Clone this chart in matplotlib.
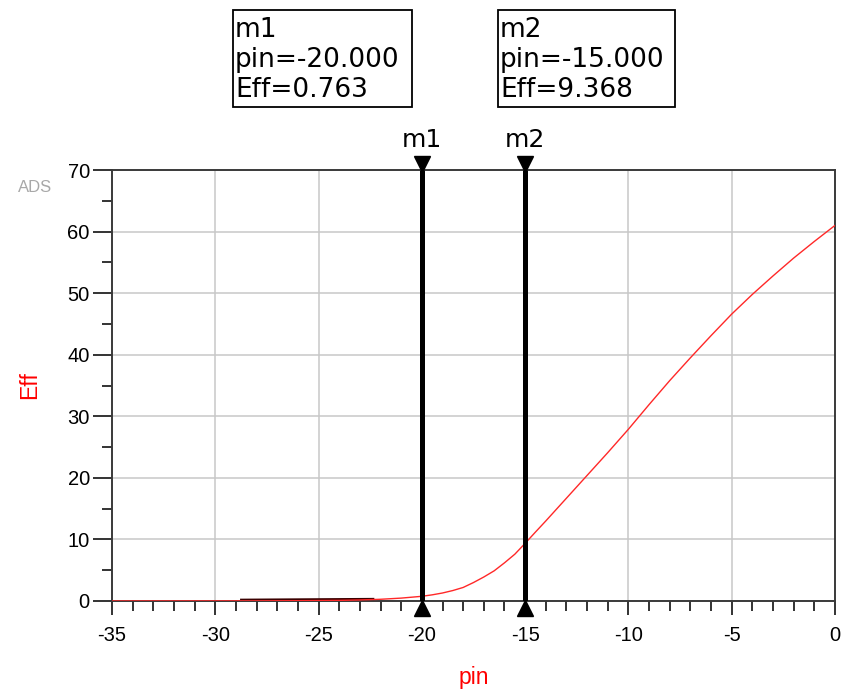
import matplotlib
matplotlib.use('Agg')
import matplotlib.pyplot as plt
import matplotlib.transforms as mtrans
from matplotlib.patches import Rectangle
from matplotlib.ticker import MultipleLocator

# data
pin = [-35, -30, -28, -26, -24, -23, -22, -21, -20, -19.5, -19, -18.5, -18, -17.5, -17,
       -16.5, -16, -15.5, -15, -14.5, -14, -13, -12, -11, -10, -9, -8, -7, -6, -5,
       -4, -3, -2, -1, 0]
eff = [0.0, 0.01, 0.02, 0.05, 0.1, 0.17, 0.28, 0.47, 0.763, 1.0, 1.3, 1.7, 2.2, 3.0, 3.9,
       4.9, 6.2, 7.6, 9.368, 11.2, 13.0, 16.7, 20.4, 24.1, 27.9, 31.9, 35.8, 39.5, 43.1, 46.6,
       49.8, 52.8, 55.7, 58.4, 61.0]
dark_pin = [-28.8, -22.3]
dark_eff = [0.12, 0.25]

markers = ['m1', 'm2']
marker_pin = [-20, -15]
marker_eff = [0.763, 9.368]

plt.rcParams['font.family'] = ['Liberation Sans', 'DejaVu Sans']
plt.rcParams['axes.unicode_minus'] = False

W, H = 843, 691
fig = plt.figure(figsize=(W / 100, H / 100), dpi=100)
ax = fig.add_axes([112 / W, 1 - 601 / H, 723 / W, 431 / H])

ax.grid(True, color='#c8c8c8', lw=1.1, zorder=0)
ax.plot(dark_pin, dark_eff, color='#3a0000', lw=2.3, zorder=2, solid_capstyle='butt')
ax.plot(pin, eff, color='#ff2828', lw=1.0, zorder=3)

ax.set_xlim(-35, 0)
ax.set_ylim(0, 70)
ax.xaxis.set_major_locator(MultipleLocator(5))
ax.xaxis.set_minor_locator(MultipleLocator(1))
ax.yaxis.set_major_locator(MultipleLocator(10))
ax.yaxis.set_minor_locator(MultipleLocator(5))
ax.tick_params(axis='both', which='both', direction='out', color='#333333', width=1.4, labelsize=14.5)
ax.tick_params(axis='x', which='major', length=10, pad=8)
ax.tick_params(axis='x', which='minor', length=7)
ax.tick_params(axis='y', which='major', length=14, pad=2)
ax.tick_params(axis='y', which='minor', length=7)
for s in ax.spines.values():
    s.set_color('#3a3a3a')
    s.set_linewidth(1.4)

ax.set_xlabel('pin', color='red', fontsize=16.5, labelpad=15)
ax.set_ylabel('Eff', color='red', fontsize=16.5, labelpad=19)

# marker boxes (left, right in pixels)
boxes = [(233, 412), (498, 675)]
top = mtrans.offset_copy(ax.transData, fig=fig, x=0, y=6.5, units='dots')
bot = mtrans.offset_copy(ax.transData, fig=fig, x=0, y=-7, units='dots')
lab = mtrans.offset_copy(ax.transData, fig=fig, x=0, y=23, units='dots')
for name, x, y, (bl, br) in zip(markers, marker_pin, marker_eff, boxes):
    ax.plot([x, x], [0, 70], color='black', lw=3.6, zorder=4, solid_capstyle='butt')
    ax.plot([x], [70], marker='v', color='black', ms=12, transform=top, clip_on=False, zorder=5)
    ax.plot([x], [0], marker='^', color='black', ms=12, transform=bot, clip_on=False, zorder=5)
    ax.text(x, 70, name, transform=lab, ha='center', va='baseline', fontsize=18,
            family='DejaVu Sans')
    fig.patches.append(Rectangle((bl / W, 1 - 107 / H), (br - bl) / W, 97 / H,
                                 transform=fig.transFigure, fc='white', ec='black', lw=1.3))
    lines = [name, 'pin=%.3f' % x, 'Eff=%.3f' % y]
    for t, base in zip(lines, [37, 67, 97]):
        fig.text((bl + 2) / W, 1 - base / H, t, fontsize=19, family='DejaVu Sans',
                 ha='left', va='baseline')

fig.text(35 / W, 1 - 187 / H, 'ADS', color='#a8a8a8', fontsize=12, ha='center', va='center')

plt.savefig('out.png', dpi=100)
